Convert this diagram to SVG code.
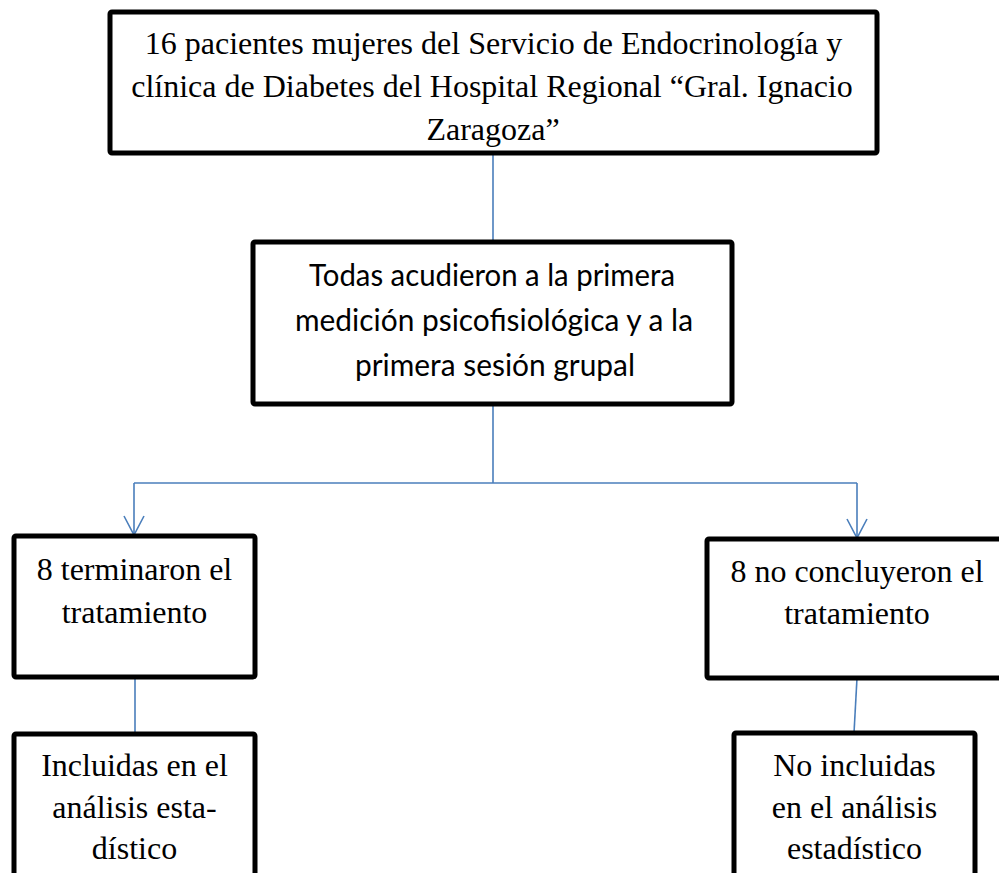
<svg xmlns="http://www.w3.org/2000/svg" width="999" height="873" viewBox="0 0 999 873">
<style>
.box{fill:#fff;stroke:#000;stroke-width:5;stroke-linejoin:round}
.serif{font-family:"Liberation Serif","Times New Roman",serif;font-size:32px;fill:#000;text-anchor:middle}
.sans{font-family:Lato,"Open Sans",sans-serif;font-size:31px;fill:#000;text-anchor:middle}
.con{fill:none;stroke:#4A7EBB;stroke-width:1.6}
</style>
<defs>
<marker id="arr" markerUnits="userSpaceOnUse" markerWidth="22" markerHeight="24" viewBox="-1 -1 22 24" refX="19" refY="10" orient="auto">
<path d="M0,0 L19,10 L0,20" fill="none" stroke="#4A7EBB" stroke-width="1.6"/>
</marker>
</defs>
<g id="connectors">
<path class="con" d="M493,153 V240"/>
<path class="con" d="M493,404 V483"/>
<path class="con" d="M134,483 H857"/>
<path class="con" d="M134,483 V535" marker-end="url(#arr)"/>
<path class="con" d="M857,483 V538" marker-end="url(#arr)"/>
<path class="con" d="M135,678 V734"/>
<path class="con" d="M857,678 L854,733"/>
</g>
<g id="n1">
<rect class="box" x="110" y="12" width="767" height="141" rx="2"/>
<text class="serif" x="493.5" y="54">16 pacientes mujeres del Servicio de Endocrinología y</text>
<text class="serif" x="492" y="97">clínica de Diabetes del Hospital Regional “Gral. Ignacio</text>
<text class="serif" x="493" y="140">Zaragoza”</text>
</g>
<g id="n2">
<rect class="box" x="253" y="242" width="479" height="162" rx="2"/>
<text class="sans" x="492" y="286" textLength="366" lengthAdjust="spacingAndGlyphs">Todas acudieron a la primera</text>
<text class="sans" x="494" y="331" textLength="398" lengthAdjust="spacingAndGlyphs">medición psicofisiológica y a la</text>
<text class="sans" x="495" y="376" textLength="280" lengthAdjust="spacingAndGlyphs">primera sesión grupal</text>
</g>
<g id="n3">
<rect class="box" x="14" y="536" width="241" height="141" rx="2"/>
<text class="serif" x="134.5" y="580">8 terminaron el</text>
<text class="serif" x="134.5" y="623">tratamiento</text>
</g>
<g id="n4">
<rect class="box" x="707" y="539" width="300" height="139" rx="2"/>
<text class="serif" x="857" y="582">8 no concluyeron el</text>
<text class="serif" x="857" y="624">tratamiento</text>
</g>
<g id="n5">
<rect class="box" x="14" y="734" width="241" height="150" rx="2"/>
<text class="serif" x="134.5" y="776">Incluidas en el</text>
<text class="serif" x="134.5" y="818">análisis esta-</text>
<text class="serif" x="134.5" y="859">dístico</text>
</g>
<g id="n6">
<rect class="box" x="734" y="733" width="241" height="150" rx="2"/>
<text class="serif" x="854.5" y="776">No incluidas</text>
<text class="serif" x="854.5" y="818">en el análisis</text>
<text class="serif" x="854.5" y="859">estadístico</text>
</g>
</svg>
